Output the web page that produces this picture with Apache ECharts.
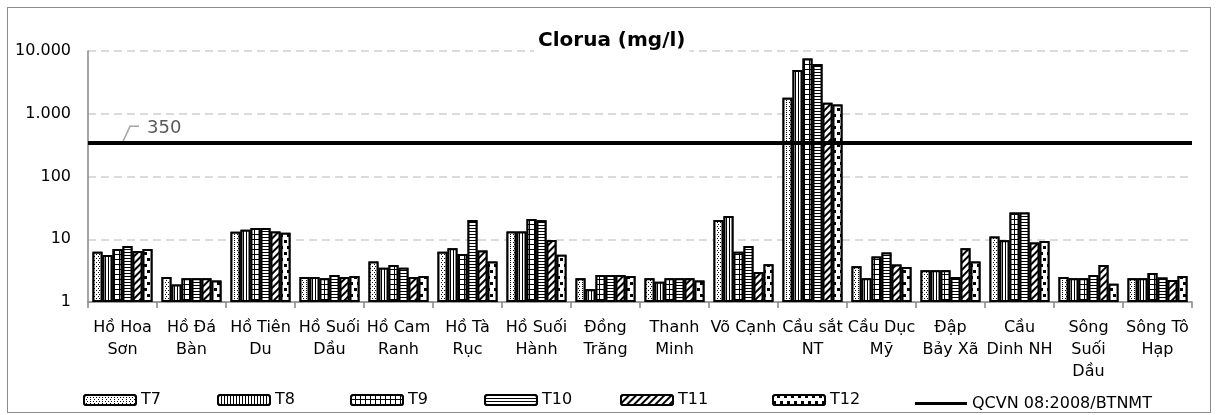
<!DOCTYPE html>
<html>
<head>
<meta charset="utf-8">
<script src="https://cdn.jsdelivr.net/npm/echarts@6/dist/echarts.min.js"></script>
<style>
html,body{margin:0;padding:0;background:#fff;}
#wrap{position:relative;width:1216px;height:415px;}
#chart{position:absolute;left:0;top:0;width:1216px;height:415px;}
#frame{position:absolute;left:7px;top:7px;width:1202px;height:404px;border:1px solid #8c8c8c;pointer-events:none;}
</style>
</head>
<body>
<div id="wrap"><div id="chart"></div><div id="frame"></div></div>
<script>
const categories = ['Hồ Hoa Sơn','Hồ Đá Bàn','Hồ Tiên Du','Hồ Suối Dầu','Hồ Cam Ranh','Hồ Tà Rục','Hồ Suối Hành','Đồng Trăng','Thanh Minh','Võ Cạnh','Cầu sắt NT','Cầu Dục Mỹ','Đập Bảy Xã','Cầu Dinh NH','Sông Suối Dầu','Sông Tô Hạp'];
const tickLabels = ['Hồ Hoa\nSơn','Hồ Đá\nBàn','Hồ Tiên\nDu','Hồ Suối\nDầu','Hồ Cam\nRanh','Hồ Tà\nRục','Hồ Suối\nHành','Đồng\nTrăng','Thanh\nMinh','Võ Cạnh','Cầu sắt\nNT','Cầu Dục\nMỹ','Đập\nBảy Xã','Cầu\nDinh NH','Sông\nSuối\nDầu','Sông Tô\nHạp'];
const seriesNames = ['T7','T8','T9','T10','T11','T12'];
const t7  = [6.3, 2.5, 13.2, 2.5, 4.4, 6.3, 13.3, 2.4, 2.4, 20.3, 1800, 3.7, 3.2, 11.1, 2.5, 2.4];
const t8  = [5.6, 1.9, 14.2, 2.5, 3.5, 7.2, 13.3, 1.6, 2.1, 23.5, 5000, 2.4, 3.2, 9.6, 2.4, 2.4];
const t9  = [7.0, 2.4, 15.1, 2.4, 3.9, 5.8, 21, 2.7, 2.4, 6.3, 7600, 5.3, 3.2, 26.8, 2.4, 2.9];
const t10 = [7.8, 2.4, 15.1, 2.7, 3.5, 20.3, 20, 2.7, 2.4, 7.8, 6200, 6.15, 2.5, 26.8, 2.7, 2.45];
const t11 = [6.5, 2.4, 13.3, 2.5, 2.5, 6.6, 9.7, 2.7, 2.4, 3.0, 1500, 3.95, 7.2, 8.9, 3.9, 2.25];
const t12 = [7.0, 2.2, 12.7, 2.6, 2.6, 4.4, 5.65, 2.6, 2.2, 4.0, 1400, 3.6, 4.4, 9.35, 1.96, 2.6];
const qcvnName = 'QCVN 08:2008/BTNMT';
const qcvn = 350;

const FONT = 'DejaVu Sans';
const decals = [
  {symbol:'rect', symbolSize:1, color:'#000', backgroundColor:'#fff', dashArrayX:[[1,2],[0,1.5,1,0.5]], dashArrayY:[1,1]},
  {symbol:'rect', symbolSize:1, color:'#000', backgroundColor:'#fff', dashArrayX:[1,2], dashArrayY:[1,0]},
  {symbol:'rect', symbolSize:1, color:'#fff', backgroundColor:'#000', dashArrayX:[4,1], dashArrayY:[4,1]},
  {symbol:'rect', symbolSize:1, color:'#000', backgroundColor:'#fff', dashArrayX:[1,0], dashArrayY:[1,2]},
  {symbol:'rect', symbolSize:1, color:'#000', backgroundColor:'#fff', dashArrayX:[1,0], dashArrayY:[2,3], rotation:-Math.PI/4},
  {symbol:'rect', symbolSize:1, color:'#000', backgroundColor:'#fff', dashArrayX:[[3,4],[0,4,3,0]], dashArrayY:[3,3]}
];
const values = [t7,t8,t9,t10,t11,t12];
const legendLefts = [83,217,350,484,620,772,915];

const barSeries = seriesNames.map((n,i)=>({
  name:n, type:'bar', data:values[i], barGap:'0%', barCategoryGap:'13%',
  itemStyle:{color:'#fff', borderColor:'#000', borderWidth:2, decal:decals[i]}
}));
const allNames = seriesNames.concat([qcvnName]);

const legends = allNames.map((n,i)=>({
  data: i < 6 ? [n] : [{name:n, icon:'rect'}],
  left:legendLefts[i], top: i < 6 ? 391 : 394.5, padding:0, itemWidth:52, itemHeight: i < 6 ? 10 : 3, itemGap:0,
  textStyle:{fontFamily:FONT, fontSize:16, color:'#000', lineHeight:18}
}));

const chart = echarts.init(document.getElementById('chart'), null, {renderer:'canvas'});
chart.setOption({
  animation:false,
  textStyle:{fontFamily:FONT},
  title:{text:'Clorua (mg/l)', left:534, top:29, padding:[2,4], backgroundColor:'#fff',
    textStyle:{fontFamily:FONT, fontSize:20, fontWeight:'bold', color:'#000'}},
  legend: legends,
  grid:{left:88, right:24, top:51, bottom:113, containLabel:false},
  xAxis:{
    type:'category', data:categories,
    axisLine:{lineStyle:{color:'#868686', width:1.5}},
    axisTick:{show:true, length:6, interval:0, lineStyle:{color:'#868686', width:1.5}},
    axisLabel:{interval:0, hideOverlap:false, margin:15, fontFamily:FONT, fontSize:16, lineHeight:22, color:'#000',
      formatter:(v,idx)=>tickLabels[idx]}
  },
  yAxis:{
    type:'log', logBase:10, min:1, max:10000,
    axisLine:{show:true, lineStyle:{color:'#868686', width:1.5}},
    axisTick:{show:false},
    splitLine:{show:true, lineStyle:{color:'#d0d0d0', width:1.5, type:[8,5]}},
    axisLabel:{fontFamily:FONT, fontSize:16, color:'#000', margin:17,
      formatter:v=>String(Math.round(v)).replace(/\B(?=(\d{3})+(?!\d))/g,'.')}
  },
  series: barSeries.concat([{
    name:qcvnName, type:'line', data:[], symbol:'none', showSymbol:false,
    lineStyle:{color:'#000', width:3},
    itemStyle:{color:'#000'},
    markLine:{
      silent:true, symbol:['none','none'], animation:false,
      lineStyle:{color:'#000', width:4, type:'solid'},
      label:{show:true, position:'insideStartTop', distance:[59,5], formatter:'{c}', fontFamily:FONT, fontSize:18, color:'#595959'},
      data:[{yAxis:qcvn}]
    }
  }])
});
const yq = chart.convertToPixel({yAxisIndex:0}, qcvn);
chart.setOption({graphic:[{type:'polyline', shape:{points:[[123,yq-1],[130,yq-16],[139,yq-16]]}, style:{stroke:'#a6a6a6', lineWidth:1.5, fill:null}, silent:true}]});
</script>
</body>
</html>
